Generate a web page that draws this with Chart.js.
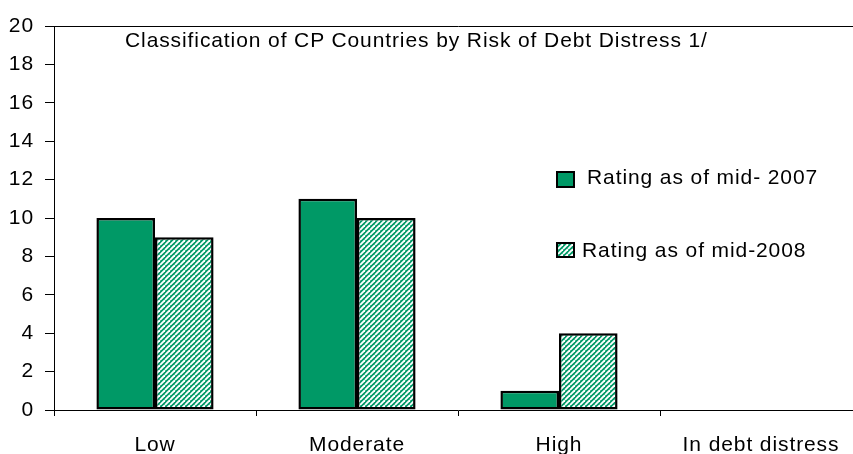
<!DOCTYPE html>
<html>
<head>
<meta charset="utf-8">
<script src="https://cdn.jsdelivr.net/npm/chart.js@4"></script>
<style>
  html, body { margin: 0; padding: 0; background: #fff; overflow: hidden; }
  #wrap { position: relative; width: 870px; height: 454px; }
  .txt { position: absolute; font-family: "Liberation Sans", Arial, sans-serif; font-size: 21px; line-height: 21px; color: #000; letter-spacing: 0.9px; white-space: nowrap; }
  .box { position: absolute; box-sizing: border-box; border: 2px solid #000; }
</style>
</head>
<body>
<div id="wrap">
  <canvas id="c"></canvas>
</div>
<script>
const categories = ["Low", "Moderate", "High", "In debt distress"];
const rating2007 = [10, 11, 1, 0];
const rating2008 = [9, 10, 4, 0];
const seriesLabels = ["Rating as of mid- 2007", "Rating as of mid-2008"];
const titleText = "Classification of CP Countries by Risk of Debt Distress 1/";
const yTicks = [0, 2, 4, 6, 8, 10, 12, 14, 16, 18, 20];

const GREEN = "#009966";

function makeHatch() {
  const s = 5;
  const pc = document.createElement("canvas");
  pc.width = s; pc.height = s;
  const g = pc.getContext("2d");
  g.fillStyle = GREEN;
  g.fillRect(0, 0, s, s);
  g.strokeStyle = "#ffffff";
  g.lineWidth = 1.9;
  for (const k of [-s, 0, s]) {
    g.beginPath();
    g.moveTo(k, s);
    g.lineTo(k + s, 0);
    g.stroke();
  }
  return pc;
}
const hatchCanvas = makeHatch();
const ctx = document.getElementById("c").getContext("2d");
const hatch = ctx.createPattern(hatchCanvas, "repeat");

const spacingPlugin = {
  id: "spacing",
  beforeDraw(chart) { chart.ctx.letterSpacing = "0.9px"; }
};

const chart = new Chart(ctx, {
  type: "bar",
  data: {
    labels: categories,
    datasets: [
      { label: seriesLabels[0], data: rating2007, backgroundColor: GREEN, borderColor: "#000", borderWidth: 2.5, borderSkipped: false, categoryPercentage: 0.58, barPercentage: 1.0 },
      { label: seriesLabels[1], data: rating2008, backgroundColor: hatch, borderColor: "#000", borderWidth: 2.5, borderSkipped: false, categoryPercentage: 0.58, barPercentage: 1.0 }
    ]
  },
  options: {
    responsive: true,
    maintainAspectRatio: false,
    animation: false,
    devicePixelRatio: 1,
    layout: { padding: { top: 26, right: 8, left: 0, bottom: 0 } },
    plugins: { legend: { display: false }, title: { display: false }, tooltip: { enabled: false } },
    scales: {
      x: {
        offset: true,
        grid: { offset: true, drawOnChartArea: false, drawTicks: true, tickLength: 6, color: "#000", tickColor: "#000", tickWidth: 1 },
        border: { display: true, color: "#000", width: 1 },
        ticks: { color: "#000", font: { family: "Liberation Sans", size: 21 }, padding: 17, maxRotation: 0, autoSkip: false },
        afterFit(scale) { scale.height = 44; }
      },
      y: {
        min: 0, max: 20,
        afterBuildTicks(scale) { scale.ticks = yTicks.map(v => ({ value: v })); },
        grid: {
          drawOnChartArea: true,
          color: (c) => (c.tick && c.tick.value === 20 ? "#000" : "rgba(0,0,0,0)"),
          tickColor: "#000", tickLength: 9, lineWidth: 1
        },
        border: { display: true, color: "#000", width: 1 },
        ticks: { color: "#000", font: { family: "Liberation Sans", size: 21 }, padding: 11 },
        afterFit(scale) { scale.width = 54; }
      }
    }
  },
  plugins: [spacingPlugin]
});

// title and legend (HTML overlay)
const wrap = document.getElementById("wrap");
const t = document.createElement("div");
t.className = "txt";
t.style.left = "125px"; t.style.top = "29px";
t.textContent = titleText;
wrap.appendChild(t);

const legendPos = [
  { box: [556, 171, 19, 17], text: [587, 166] },
  { box: [556, 242, 19, 16], text: [582, 239] }
];
const hatchURL = hatchCanvas.toDataURL();
chart.data.datasets.forEach((ds, i) => {
  const p = legendPos[i];
  const b = document.createElement("div");
  b.className = "box";
  b.style.left = p.box[0] + "px"; b.style.top = p.box[1] + "px";
  b.style.width = p.box[2] + "px"; b.style.height = p.box[3] + "px";
  if (i === 0) b.style.background = GREEN;
  else b.style.background = "url(" + hatchURL + ") repeat";
  wrap.appendChild(b);
  const l = document.createElement("div");
  l.className = "txt";
  l.style.left = p.text[0] + "px"; l.style.top = p.text[1] + "px";
  l.textContent = ds.label;
  wrap.appendChild(l);
});
</script>
</body>
</html>
